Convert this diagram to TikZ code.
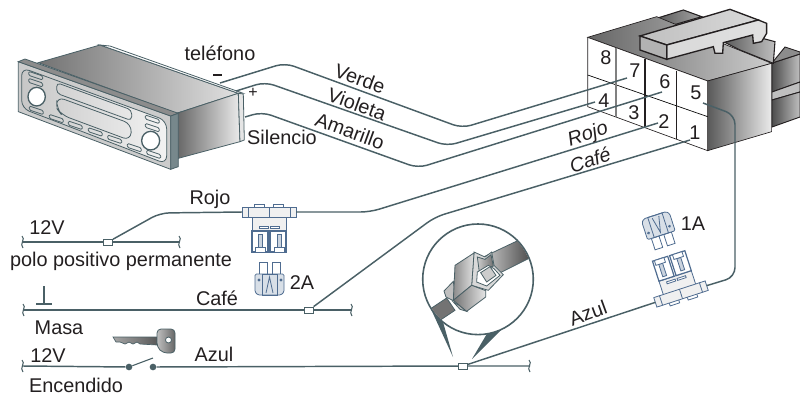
\documentclass[tikz,border=0pt]{standalone}
\usepackage{fontspec}
\setmainfont{Liberation Sans}
\definecolor{cable}{HTML}{4A6066}
\definecolor{tinta}{HTML}{231F20}
\definecolor{fusazul}{HTML}{4F6C90}
\tikzset{
    cablecito/.style={draw=cable,line width=1.1pt,rounded corners=7pt},
    etiqueta/.style={inner sep=0pt,text=tinta,font=\fontsize{14.9}{15}\selectfont},
    cursiva/.style={inner sep=0pt,text=tinta,font=\fontsize{14.9}{15}\selectfont\itshape},
    empalme/.style={draw=cable,fill=white,line width=0.6pt,minimum width=7pt,minimum height=4.5pt,inner sep=0pt},
    contacto/.style={circle,fill=cable,minimum size=5pt,inner sep=0pt},
    corte/.pic={\draw[cable,line width=0.8pt] (-1,-6) .. controls (3,-3) and (-4,2) .. (0,6);},
    fusible/.pic={
        \coordinate (-izq) at (-27,0);
        \coordinate (-der) at (27,0);
        \begin{scope}[draw=fusazul,line width=0.6pt]
        \draw[fill=white] (-15,-8) rectangle (-5,-4); % Tabs on the bar
        \draw[fill=white] (4,-8) rectangle (14,-4);
        \draw[fill=black!6] (-17,3) rectangle (17,19); % Holder
        \draw[fill=white] (-10,14) rectangle (-1,16);
        \draw[fill=white] (1,14) rectangle (10,16);
        \draw[fill=black!6] (-27,-5) rectangle (27,5); % Bar
        \draw (-21,-5) -- (-21,5) (0,-5) -- (0,5) (21,-5) -- (21,5);
        \draw[fill=white,line width=0.9pt] (-17,19) rectangle (-1,40); % Sockets
        \draw[fill=white,line width=0.9pt] (1,19) rectangle (17,40);
        \draw[fill=fusazul!30] (-11,22) rectangle (-7,35);
        \draw[fill=fusazul!30] (8,22) rectangle (12,35);
        \draw[fill=white] (-14,35) rectangle (-4,40);
        \draw[fill=white] (5,35) rectangle (15,40);
        \draw[fill=white] (-10,50) rectangle (-2,62); % Fuse blades
        \draw[fill=white] (3,50) rectangle (11,62);
        \draw[fill=fusazul!22,rounded corners=1pt] (-14,62) -- (15,62) -- (15,80) -- (12,83) -- (-11,83) -- (-14,80) -- cycle;
        \draw (-7,62) rectangle (8,83);
        \draw (-3,81) -- (0.5,65) -- (4,81);
        \draw (-10,68) circle (1) (12,68) circle (1);
        \end{scope}
    }
}
\begin{document}
\begin{tikzpicture}[x=0.75pt,y=-0.75pt]
    \useasboundingbox (0,0) rectangle (800,397);

    % Radio
    \begin{scope}[shift={(0,30)},scale=0.3333,draw=cable,line width=0.6pt]
    \shade[left color=black!55,right color=black!12,draw=cable] (115,98) -- (300,45) -- (715,190) -- (530,250) -- cycle; % Top
    \draw[fill=white] (300,45) -- (330,48) -- (730,190) -- (715,190) -- cycle;
    \shade[left color=black!60,right color=black!8,draw=cable] (530,250) -- (715,190) -- (720,335) -- (535,385) -- cycle; % Side
    \draw[fill=black!10] (715,190) -- (730,192) -- (733,330) -- (720,335) -- cycle;
    \draw[fill=black!20] (55,95) -- (512,258) -- (512,418) -- (55,245) -- cycle; % Front plate
    \draw[fill=black!45] (55,95) -- (75,87) -- (535,250) -- (512,258) -- cycle;
    \draw[fill=cable!75] (512,258) -- (535,250) -- (535,410) -- (512,418) -- cycle;
    \shade[left color=black!22,right color=black!5,draw=cable,rounded corners=6pt] (65,113) -- (500,272) -- (500,402) -- (65,235) -- cycle;
    \draw[rounded corners=3pt] (170,158) -- (395,240) -- (395,272) -- (170,190) -- cycle; % Display
    \draw[rounded corners=6pt] (170,200) -- (395,282) -- (392,332) -- (185,255) -- (170,235) -- cycle;
    \foreach \px/\py in {86/124,86/145,88/228,148/253,205/273,265/293,323/315,382/340,440/360,436/255,436/280} {
        \draw[rounded corners=1pt] (\px,\py) -- ++(42,14) -- ++(0,12) -- ++(-42,-14) -- cycle;
    }
    \draw[fill=white,line width=1pt] (110,200) ellipse [x radius=26,y radius=28]; % Knobs
    \draw[fill=white,line width=1pt] (452,332) ellipse [x radius=27,y radius=28];
    \end{scope}

    % Rear blocks of connector
    \shade[left color=black!70,right color=black!25,draw=tinta,line width=0.7pt] (772,63) -- (800,54) -- (800,82) -- (772,92) -- cycle;
    \draw[tinta,fill=black!45,line width=0.7pt] (772,63) -- (785,47) -- (800,52) -- (800,54) -- cycle;
    \draw[tinta,fill=black!25,line width=0.7pt] (772,92) -- (800,82) -- (800,92) -- (772,100) -- cycle;
    \shade[left color=black!70,right color=black!25,draw=tinta,line width=0.7pt] (772,100) -- (800,92) -- (800,117) -- (772,127) -- cycle;

    % Connector
    \begin{scope}[shift={(540,0)},scale=0.3333,line width=0.8pt]
    \shade[left color=black!65,right color=black!35,draw=tinta] (350,55) -- (430,30) -- (485,50) -- (400,75) -- cycle;
    \shade[left color=black!65,right color=black!25,draw=tinta] (550,125) -- (630,105) -- (705,125) -- (700,190) -- (600,150) -- cycle;
    \shade[left color=black!60,right color=black!20,draw=tinta,line width=0.5pt] (143,112) -- (350,50) -- (695,190) -- (503,243) -- cycle; % Top face
    \shade[left color=black!65,right color=black!8,draw=tinta,line width=0.5pt] (503,243) -- (695,190) -- (695,395) -- (503,452) -- cycle; % Right face
    \draw[fill=white,line width=0.5pt,draw=tinta] (143,112) -- (503,243) -- (503,452) -- (143,320) -- cycle; % Front face
    \draw[line width=0.5pt] (143,225) -- (503,350);
    \draw[black!50,line width=0.8pt] (228,143) -- (228,350);
    \draw[tinta,line width=1.2pt] (315,178) -- (315,380);
    \draw[tinta,line width=1.2pt] (410,212) -- (410,418);
    \end{scope}

    % Clip on top of connector
    \begin{scope}[shift={(630,0)},scale=0.3333,draw=tinta,line width=1pt]
    \shade[left color=black!25,middle color=black!50,right color=black!15,draw=tinta,line width=1pt] (30,108) -- (300,28) -- (385,60) -- (110,135) -- cycle;
    \shade[left color=black!15,middle color=black!60,right color=black!12,draw=tinta,line width=1pt] (110,135) -- (385,60) -- (410,70) -- (410,100) -- (395,125) -- (370,130) -- (368,105) -- (280,128) -- (278,160) -- (255,160) -- (250,140) -- (110,178) -- cycle;
    \draw[fill=black!30] (30,108) -- (110,135) -- (110,178) -- (30,150) -- cycle;
    \end{scope}

    % Pin numbers
    \node[etiqueta] (n8) at (606,58) {8};
    \node[etiqueta] (n7) at (635,71) {7};
    \node[etiqueta] (n6) at (665,82) {6};
    \node[etiqueta] (n5) at (696,93) {5};
    \node[etiqueta] (n4) at (604,101) {4};
    \node[etiqueta] (n3) at (634,113) {3};
    \node[etiqueta] (n2) at (664,122) {2};
    \node[etiqueta] (n1) at (695,133) {1};

    % Wire ends
    \coordinate (verdeRadio) at (220,83);
    \coordinate (violetaRadio) at (236,91);
    \coordinate (amarilloRadio) at (245,117);
    \coordinate (pin7) at (627,78);
    \coordinate (pin6) at (662,92);
    \coordinate (pin5) at (703,103);
    \coordinate (pin4) at (595,102);
    \coordinate (pin2) at (658,123);
    \coordinate (pin1) at (690,140);
    \coordinate (bendAzul) at (735,277);
    \coordinate (bendAzulTop) at (735,115);

    % Bus lines
    \pic (corteA) at (23,242) {corte};
    \pic (corteB) at (180,242) {corte};
    \pic (corteC) at (24,310) {corte};
    \pic (corteD) at (352,310) {corte};
    \pic (corteE) at (23,366) {corte};
    \pic (corteF) at (530,366) {corte};
    \coordinate (busAizq) at (23,242);
    \coordinate (busAder) at (180,242);
    \coordinate (busBizq) at (24,310);
    \coordinate (busBder) at (352,310);
    \coordinate (busCizq) at (23,366);
    \coordinate (busCder) at (530,366);
    \node[contacto] (llaveA) at (129,367) {};
    \node[contacto] (llaveB) at (153,367) {};
    \coordinate (llaveFin) at (153,358);

    % Fuses
    \pic (fusRojo) at (269,212) {fusible};
    \pic[rotate=198] (fusAzul) at (681,294) {fusible};

    \node[empalme] (empA) at (108,242) {};
    \node[empalme] (empB) at (309,310) {};
    \node[empalme] (empC) at (463,366) {};

    \draw[cable,line width=1.1pt] (busAizq) -- (empA) -- (busAder);
    \draw[cable,line width=1.1pt] (busBizq) -- (empB) -- (busBder);
    \draw[cable,line width=1.1pt] (busCizq) -- (llaveA);
    \draw[cable,line width=1.1pt] (llaveB) -- (empC) -- (busCder);
    \draw[cable,line width=0.8pt] (llaveA) -- (llaveFin);

    % Wires
    \draw[cablecito] (verdeRadio) -- (285,63) -- (462,128) -- (pin7);
    \draw[cablecito] (violetaRadio) -- (265,82) -- (447,146) -- (pin4);
    \draw[cablecito] (amarilloRadio) -- (262,112) -- (418,168) -- (pin6);
    \draw[cablecito] (empA) -- (160,213) -- (fusRojo-izq);
    \draw[cablecito] (fusRojo-der) -- (370,212) -- (pin2);
    \draw[cablecito] (empB) -- (435,217) -- (pin1);
    \draw[cablecito] (empC) -- (fusAzul-der);
    \draw[cablecito] (fusAzul-izq) -- (bendAzul) -- (bendAzulTop) -- (pin5);

    % Ground symbol
    \draw[cable,line width=1.6pt] (44,286) -- (44,304);
    \draw[cable,line width=1.6pt] (36,304) -- (52,304);

    % Key
    \shade[left color=black!35,right color=black!65,draw=cable,line width=0.5pt] (113,337) -- (157,337) -- (157,345) -- (140,344) -- (137,342) -- (133,344) -- (129,342) -- (125,344) -- (120,342) -- (116,342) -- cycle;
    \shade[left color=black!25,right color=black!60,draw=cable,line width=0.6pt,rounded corners=3pt] (157,329) -- (175,329) -- (175,353) -- (163,353) -- (157,347) -- cycle;
    \draw[cable,fill=white,line width=0.6pt] (168.5,340) circle (3);

    % Pointers to detail
    \fill[cable] (430,307) -- (453,357) -- (443,322) -- cycle;
    \fill[cable] (503,328) -- (472,359) -- (488,332) -- cycle;

    % Detail circle
    \draw[cable,fill=white,line width=1.2pt] (478,279.3) circle (55.3);
    \begin{scope}
    \clip (478,279.3) circle (54.6);
    \begin{scope}[shift={(420,222)},scale=0.3333,draw=cable,line width=0.6pt]
    \shade[left color=black!20,right color=black!75,draw=cable] (190,105) -- (310,48) -- (345,100) -- (225,160) -- cycle; % Cable
    \draw[fill=black!55] (20,268) -- (80,228) -- (105,265) -- (45,305) -- cycle;
    \draw[fill=black!25] (72,207) -- (100,178) -- (108,240) -- (78,225) -- cycle; % Latch
    \draw[fill=black!30] (100,240) -- (120,262) -- (140,268) -- (118,250) -- cycle;
    \draw[fill=black!15] (162,90) -- (195,105) -- (215,90) -- (222,130) -- (250,158) -- (205,205) -- (155,190) -- cycle; % Socket
    \shade[left color=black!20,right color=black!55,draw=cable] (172,105) -- (195,112) -- (213,98) -- (220,132) -- (178,150) -- cycle;
    \draw[fill=white] (172,150) -- (205,130) -- (222,140) -- (240,160) -- (200,192) -- (170,180) -- cycle;
    \draw[fill=black!20] (182,152) -- (210,134) -- (228,160) -- (200,180) -- cycle;
    \shade[left color=black!45,right color=black!12,draw=cable] (105,130) -- (162,93) -- (155,190) -- (100,235) -- cycle; % Body
    \shade[left color=black!55,right color=black!10,draw=cable] (100,235) -- (155,190) -- (197,206) -- (197,225) -- (140,268) -- cycle;
    \end{scope}
    \end{scope}

    % Labels
    \node[etiqueta] (telefono) at (220,53) {teléfono};
    \draw[tinta,line width=1.6pt] (213,75) -- (222,75);
    \node[etiqueta,font=\fontsize{12}{12}\selectfont] (mas) at (253,93) {+};
    \node[etiqueta] (silencio) at (282,137) {Silencio};
    \node[etiqueta,rotate=-20] (verde) at (360,79) {Verde};
    \node[etiqueta,rotate=-20] (violeta) at (357,104) {Violeta};
    \node[etiqueta,rotate=-20] (amarillo) at (350,131) {Amarillo};
    \node[cursiva,rotate=18] (rojoB) at (588,135) {Rojo};
    \node[cursiva,rotate=18] (cafeB) at (590,160) {Café};
    \node[etiqueta] (rojoA) at (210,199) {Rojo};
    \node[etiqueta] (dosA) at (302,283) {2A};
    \node[etiqueta] (unoA) at (693,224) {1A};
    \node[etiqueta] (voltA) at (47,228) {12V};
    \node[etiqueta] (polo) at (121,261) {polo positivo permanente};
    \node[etiqueta] (cafeA) at (217,298) {Café};
    \node[etiqueta] (masa) at (59,328) {Masa};
    \node[etiqueta] (voltB) at (48,356) {12V};
    \node[etiqueta] (azulA) at (214,354) {Azul};
    \node[etiqueta] (encendido) at (76,385) {Encendido};
    \node[etiqueta,rotate=20] (azulB) at (588,313) {Azul};

\end{tikzpicture}
\end{document}
